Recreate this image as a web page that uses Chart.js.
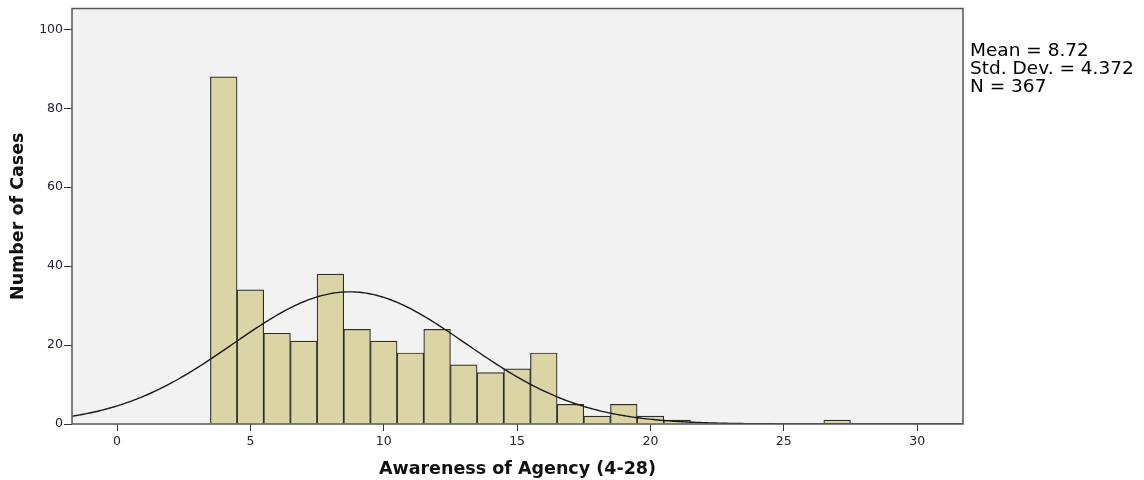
<!DOCTYPE html>
<html>
<head>
<meta charset="utf-8">
<style>
  html, body { margin: 0; padding: 0; background: #ffffff; }
  #wrap { width: 1144px; height: 480px; position: relative; }
</style>
<script src="https://cdn.jsdelivr.net/npm/chart.js@4/dist/chart.umd.min.js"></script>
</head>
<body>
<div id="wrap"><canvas id="c" width="1144" height="480"></canvas></div>
<script>
// Score values (bin centres, bin width 1) and their case counts
const scores = [4, 5, 6, 7, 8, 9, 10, 11, 12, 13, 14, 15, 16, 17, 18, 19, 20, 21, 27];
const counts = [88, 34, 23, 21, 38, 24, 21, 18, 24, 15, 13, 14, 18, 5, 2, 5, 2, 1, 1];

// Summary statistics shown beside the plot
const statMean = 8.72;
const statSD = 4.372;
const statN = 367;
const statLines = ['Mean = 8.72', 'Std. Dev. = 4.372', 'N = 367'];

// Axis ticks and titles
const xTicks = [0, 5, 10, 15, 20, 25, 30];
const yTicks = [0, 20, 40, 60, 80, 100];
const xTitle = 'Awareness of Agency (4-28)';
const yTitle = 'Number of Cases';

const xMin = -1.69, xMax = 31.72;
const yMin = 0, yMax = 105.3;

// Normal curve scaled to the histogram (N * bin width * density)
const curve = [];
for (let i = 0; i <= 400; i++) {
  const x = xMin + (xMax - xMin) * i / 400;
  const z = (x - statMean) / statSD;
  curve.push({ x: x, y: statN / (statSD * Math.sqrt(2 * Math.PI)) * Math.exp(-0.5 * z * z) });
}

const bars = scores.map((s, i) => ({ x: s, y: counts[i] }));

const frame = {
  id: 'frame',
  beforeDraw(chart) {
    const { ctx, chartArea: a } = chart;
    ctx.save();
    ctx.fillStyle = '#f2f2f2';
    ctx.fillRect(a.left, a.top, a.right - a.left, a.bottom - a.top);
    ctx.restore();
  },
  afterDraw(chart) {
    const { ctx, chartArea: a } = chart;
    ctx.save();
    ctx.strokeStyle = '#555555';
    ctx.lineWidth = 1.5;
    ctx.strokeRect(a.left, a.top, a.right - a.left, a.bottom - a.top);
    ctx.fillStyle = '#000000';
    ctx.font = '18.5px "DejaVu Sans", sans-serif';
    ctx.textBaseline = 'alphabetic';
    ctx.textAlign = 'left';
    statLines.forEach((t, i) => ctx.fillText(t, 970, 56 + i * 18));
    ctx.restore();
  }
};

new Chart(document.getElementById('c'), {
  type: 'bar',
  data: {
    datasets: [
      {
        type: 'line',
        data: curve,
        borderColor: '#1a1a1a',
        borderWidth: 1.4,
        pointRadius: 0,
        tension: 0,
        fill: false,
        order: 0
      },
      {
        type: 'bar',
        data: bars,
        backgroundColor: '#dbd5a6',
        borderColor: '#2e2e2e',
        borderWidth: 1.2,
        barPercentage: 1,
        categoryPercentage: 1,
        order: 1
      }
    ]
  },
  options: {
    responsive: false,
    animation: false,
    events: [],
    layout: { padding: { left: 0, right: 181, top: 8, bottom: 0 } },
    plugins: { legend: { display: false }, tooltip: { enabled: false } },
    scales: {
      x: {
        type: 'linear',
        min: xMin,
        max: xMax,
        offset: false,
        afterFit(s) { s.height = 56; },
        afterBuildTicks(s) { s.ticks = xTicks.map(v => ({ value: v })); },
        ticks: {
          includeBounds: false,
          color: '#222233',
          font: { family: '"DejaVu Sans", sans-serif', size: 12.5 },
          padding: 3,
          maxRotation: 0
        },
        grid: { drawOnChartArea: false, drawTicks: true, tickLength: 7, color: '#333333', offset: false },
        border: { display: false },
        title: {
          display: true,
          text: xTitle,
          color: '#111111',
          font: { family: '"DejaVu Sans", sans-serif', size: 17.5, weight: 'bold' },
          padding: { top: 5, bottom: 0 }
        }
      },
      y: {
        type: 'linear',
        min: yMin,
        max: yMax,
        afterFit(s) { s.width = 72; },
        afterBuildTicks(s) { s.ticks = yTicks.map(v => ({ value: v })); },
        ticks: {
          includeBounds: false,
          color: '#222233',
          font: { family: '"DejaVu Sans", sans-serif', size: 12.5 },
          padding: 1
        },
        grid: { drawOnChartArea: false, drawTicks: true, tickLength: 8, color: '#333333' },
        border: { display: false },
        title: {
          display: true,
          text: yTitle,
          color: '#111111',
          font: { family: '"DejaVu Sans", sans-serif', size: 17.5, weight: 'bold' },
          padding: { top: 8, bottom: 12 }
        }
      }
    }
  },
  plugins: [frame]
});
</script>
</body>
</html>
